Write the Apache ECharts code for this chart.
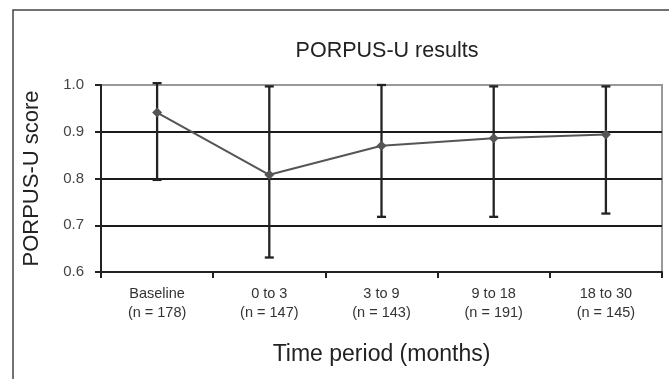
<!DOCTYPE html>
<html>
<head>
<meta charset="utf-8">
<script src="https://cdn.jsdelivr.net/npm/echarts@6/dist/echarts.min.js"></script>
<style>
html,body{margin:0;padding:0;background:#fff;}
#c{width:669px;height:379px;}
</style>
</head>
<body>
<div id="c"></div>
<script>
var categories = ['Baseline\n(n = 178)', '0 to 3\n(n = 147)', '3 to 9\n(n = 143)', '9 to 18\n(n = 191)', '18 to 30\n(n = 145)'];
var means = [0.941, 0.808, 0.870, 0.886, 0.894];
var upper = [1.004, 0.997, 1.000, 0.997, 0.997];
var lower = [0.797, 0.631, 0.718, 0.718, 0.725];
var yTicks = [0.6, 0.7, 0.8, 0.9, 1.0];

var FONT = '"Liberation Sans", Arial, sans-serif';
var chart = echarts.init(document.getElementById('c'), null, {renderer: 'canvas'});

var errData = categories.map(function (c, i) { return [i, lower[i], upper[i]]; });

chart.setOption({
  animation: false,
  backgroundColor: '#fff',
  title: {
    text: 'PORPUS-U results',
    left: 382, top: 35, textAlign: 'center',
    textStyle: {fontFamily: FONT, fontSize: 21.5, fontWeight: 'normal', color: '#222'}
  },
  graphic: [
    {type: 'rect', shape: {x: 13, y: 10, width: 700, height: 420},
     style: {fill: 'none', stroke: '#444', lineWidth: 1.5}, z: -1}
  ],
  grid: {left: 101, right: 7, top: 85, bottom: 107, show: true,
         borderColor: '#999', borderWidth: 2, backgroundColor: 'transparent'},
  xAxis: {
    type: 'category',
    data: categories,
    boundaryGap: true,
    name: 'Time period (months)',
    nameLocation: 'middle',
    nameGap: 71,
    nameTextStyle: {fontFamily: FONT, fontSize: 23, color: '#222'},
    axisLine: {lineStyle: {color: '#222', width: 2}},
    axisTick: {show: true, length: 6, lineStyle: {color: '#222', width: 2}},
    axisLabel: {fontFamily: FONT, fontSize: 14.5, color: '#333', lineHeight: 19.5, margin: 12},
    splitLine: {show: false}
  },
  yAxis: {
    type: 'value',
    min: yTicks[0], max: yTicks[yTicks.length - 1], interval: 0.1,
    name: 'PORPUS-U score',
    nameLocation: 'middle',
    nameGap: 58,
    nameTextStyle: {fontFamily: FONT, fontSize: 22, color: '#222'},
    axisLine: {show: true, lineStyle: {color: '#222', width: 2}},
    axisTick: {show: true, length: 6, lineStyle: {color: '#222', width: 2}},
    axisLabel: {fontFamily: FONT, fontSize: 15, color: '#444', margin: 17,
      formatter: function (v) { return v.toFixed(1); }},
    splitLine: {show: true, lineStyle: {color: ['#222', '#1a1a1a', '#1a1a1a', '#1a1a1a', '#999'], width: 2}}
  },
  series: [
    {
      type: 'custom',
      data: errData,
      z: 3,
      renderItem: function (params, api) {
        var x = api.value(0);
        var lo = api.coord([x, api.value(1)]);
        var hi = api.coord([x, api.value(2)]);
        var hw = 4.5;
        var st = {stroke: '#222', lineWidth: 2.3, fill: 'none'};
        return {
          type: 'group',
          children: [
            {type: 'line', shape: {x1: lo[0], y1: lo[1], x2: hi[0], y2: hi[1]}, style: st},
            {type: 'line', shape: {x1: lo[0] - hw, y1: lo[1], x2: lo[0] + hw, y2: lo[1]}, style: st},
            {type: 'line', shape: {x1: hi[0] - hw, y1: hi[1], x2: hi[0] + hw, y2: hi[1]}, style: st}
          ]
        };
      }
    },
    {
      type: 'line',
      data: means,
      z: 4,
      symbol: 'diamond',
      symbolSize: 10,
      lineStyle: {color: '#555', width: 2},
      itemStyle: {color: '#555'}
    }
  ]
});
</script>
</body>
</html>
